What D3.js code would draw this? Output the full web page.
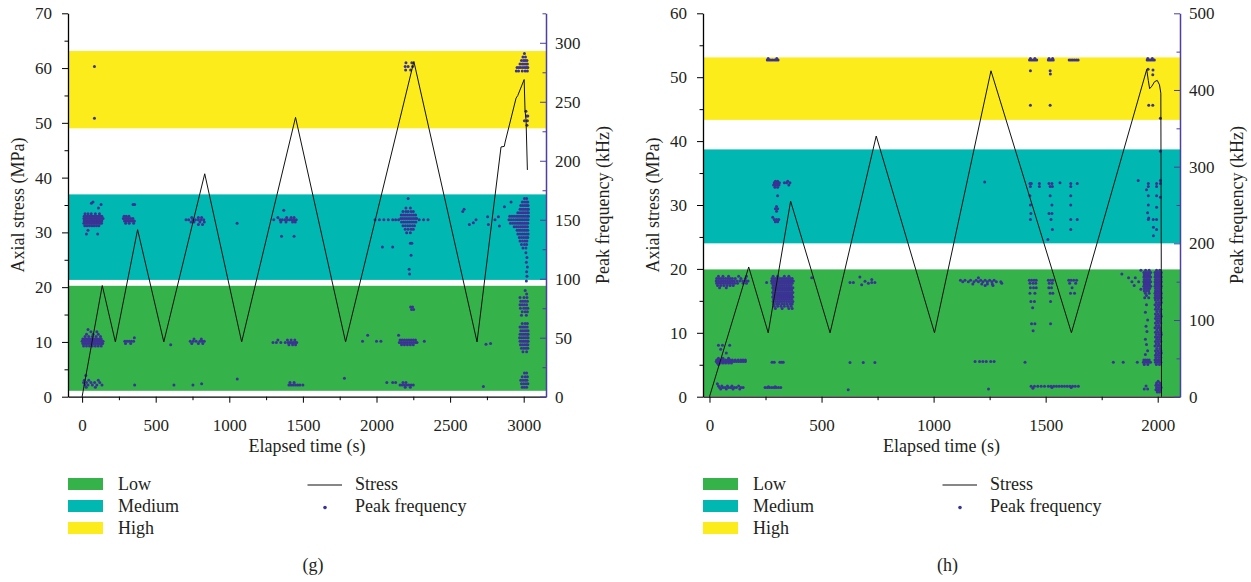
<!DOCTYPE html>
<html><head><meta charset="utf-8">
<script src="https://cdn.jsdelivr.net/npm/d3@7"></script>
<style>
body{margin:0;background:#fff}
svg{display:block}
text{font-family:"Liberation Serif","DejaVu Serif",serif;fill:#231f20}
</style>
</head><body><svg id="c" width="1251" height="582"></svg>
<script>
// ---------- data ----------
const bandNames = ["Low", "Medium", "High"];
const bandColors = ["#35b24a", "#00b8b1", "#fcec1c"];
const seriesNames = ["Stress", "Peak frequency"];

// frequency bands (kHz)
const gBands = [[5, 94], [99, 171.5], [227.5, 293]];
const hBands = [[0.5, 166], [200, 322.5], [361, 442.5]];

// tick values
const gTimeTicks = [0, 500, 1000, 1500, 2000, 2500, 3000];
const gTimeMinor = [250, 750, 1250, 1750, 2250, 2750];
const gStressTicks = [0, 10, 20, 30, 40, 50, 60, 70];
const gStressMinor = [5, 15, 25, 35, 45, 55, 65];
const gFreqTicks = [0, 50, 100, 150, 200, 250, 300];
const gFreqMinor = [25, 75, 125, 175, 225, 275, 325];
const hTimeTicks = [0, 500, 1000, 1500, 2000];
const hTimeMinor = [250, 750, 1250, 1750];
const hStressTicks = [0, 10, 20, 30, 40, 50, 60];
const hStressMinor = [5, 15, 25, 35, 45, 55];
const hFreqTicks = [0, 100, 200, 300, 400, 500];
const hFreqMinor = [50, 150, 250, 350, 450];

// stress curves [time s, MPa]
const gStress = [[0,0],[137,20.3],[226,10],[377,30.5],[555,10],[833,40.7],[1084,10],[1450,51],[1790,10],[2254,61.2],[2683,10],[2846,45.6],[2868,45.7],[2874,46.5],[2948,54.5],[2960,55],[3003,57.9],[3009,52.3],[3016,50.5],[3025,41.4]];
const hStress = [[0,0],[175,20.3],[262,10],[362,30.6],[538,10],[744,40.8],[1004,10],[1256,51],[1615,10],[1951,51.2],[1958,49.5],[1964,48.2],[1974,48.6],[1986,49.3],[1998,49.5],[2008,48.8],[2014,47.5],[2016,20],[2017,0]];

// peak frequency points, rows of [kHz, time1, time2, ...]
const gPeakRows = [
[165,74],[164,63],[163,129],[160,111],
[155,20,40,62,90,118],
[153,14,26,38,50,62,74,86,98,110,122,134],
[151,12,24,36,48,60,72,84,96,108,120,132,142],
[149,14,26,38,50,62,74,86,98,110,122,134],
[147,12,24,36,48,60,72,84,96,108,120,132],
[145,18,34,50,66,82,98,114],
[141,40],[138,29,106],
[163,346,357],[153,285,300,318],[151,280,292,304,316,330,345],[149,288,300,312,326,340,355],[147,296,320,350],
[152,745,790,812],[150,706,724,752,770,790,808,826],[148,740,760,800,830],[146,790,818],[147,1053],
[158,1370],[152,1330,1390,1420,1440],[150,1302,1345,1360,1378,1395,1410,1425,1440,1455],[148,1350,1385,1430,1448],[136,1355,1440],
[150,1990,2020,2050,2080,2110,2130,2150,2290,2320,2350],
[168,2215],[160,2200,2230],[157,2180,2200,2215,2235,2250],
[154,2168,2182,2196,2210,2224,2238,2252,2266],
[151,2165,2178,2192,2206,2220,2234,2248,2262,2273],
[148,2170,2184,2198,2212,2226,2240,2254,2268],
[145,2180,2196,2212,2228,2244,2258],
[142,2195,2215,2235,2250],[139,2205,2230],[130,2230,2240],[127,2040,2110],[120,2235],[108,2222],[104,2225],
[76,2232,2245],[74,2238,2252],
[157,2586],[146,2631,2760],[147.5,2658],[150,2676,2805],[152.6,2755,2828],[144.7,2835],[161,2869],[165,2914],[159,2595],
[168,3005,3020],[165,2990,3005,3018,3028],[162,2980,2994,3008,3020,3030],[159,2975,2988,3000,3012,3024,3032],
[156,2960,2974,2988,3000,3012,3024,3032],
[153,2905,2920,2935,2950,2962,2975,2988,3000,3012,3024,3032],
[150,2900,2915,2930,2945,2958,2970,2982,2994,3006,3018,3030],
[147,2910,2925,2940,2955,2968,2980,2992,3004,3016,3028],
[144,2935,2950,2964,2978,2990,3002,3014,3026],
[141,2955,2968,2980,2992,3004,3016,3028],
[138,2960,2975,2990,3004,3018,3030],
[135,2970,2985,3000,3015,3028],[132,2975,2992,3008,3022],[129,2985,3005,3020],[126,2995,3015],
[122,3015],[118,3022],[114,3018],[110,3025],[106,3020],[102,3022],[98,3018],
[90,3010],[87,3020],[84,2975,3002,3022],[81,2980,2995,3010,3025],[78,2975,2990,3005,3020],[75,2978,3000,3015,3028],[72,2990,3010,3025],[69,2985,3018],
[62,2990,3010,3025],[59,2975,2988,3000,3012,3024],[56,2980,2994,3008,3020,3030],[53,2975,2988,3000,3012,3024,3030],
[50,2972,2985,2998,3010,3022,3030],[47,2975,2988,3000,3012,3024,3030],[44,2978,2992,3006,3018,3028],[41,2985,3000,3015,3028],[38,2995,3020],
[57,40],[55,60,100],[53,30,75,110],[51,20,45,70,95,125],
[49,5,18,30,42,55,68,80,92,105,118,130],
[47,0,12,24,36,48,60,72,84,96,108,120,132,142],
[45,5,18,30,42,55,68,80,92,105,118,130,140],
[43,10,30,50,70,90,110,130],
[50,355],[47,290,305,320,335,350],[45,295,330],[44,602],
[49,760,810],[47,735,755,775,800,815,830],[45,745,790,820],
[48,1330,1395,1420,1445],[46,1297,1320,1350,1380,1400,1412,1424,1436,1448,1458],[44,1405,1430,1450],
[52,1940,2150],[47,1905,2000,2030,2325],
[48,2160,2175,2190,2205,2220,2235,2250,2265],[46,2155,2168,2182,2196,2210,2224,2238,2252,2266,2275],[44,2170,2190,2210,2230,2250],
[44.4,2744],[45.2,2775],
[18,25],[14,15,45,110],[12,10,30,60,85,120],[10,20,40,70,100,135],[8,28,90],
[10,357,624,753],[11,812],[15,1054],[15.6,1782],
[12,1412,1440],[10,1405,1420,1435,1450,1465,1480,1500],
[12,2070,2110,2130,2180,2200],[10,2160,2175,2190,2205,2220,2235,2250],[8,2195,2230],[8.6,2726],
[20,3005,3020],[17,2990,3010,3025],[14,2980,2995,3010,3022],[11,2985,3000,3015,3028],[8,2990,3005,3020],
[280,84],[236,84],[283,2200,2240],[280,2195,2215,2245],[277,2198,2232],
[291,3005],[288,2995,3012],[285,2985,3000,3010,3022],[282,2975,2990,3002,3015,3025],
[279,2955,2968,2980,2995,3008,3018,3028],[276,2950,2965,2990,3010,3025],
[242,3015],[238,3020,3028],[234,3005,3025],[230,3022]
];

const hPeakRows = [
[157,40,60,85,130,165],
[154,32,42,52,62,72,82,92,102,115,140,160],
[151,30,40,50,60,70,80,90,100,110,122,135,148,162,172],
[148,32,42,52,62,72,82,92,102,112,125,150,165],
[145,36,50,64,78,92,106],[142,45,75],
[157,284,304,334,354],
[154,279,288,297,306,315,324,333,342,351,360,369],
[151,277,286,295,304,313,322,331,340,349,358,367,374],
[148,279,288,297,306,315,324,333,342,351,360,369],
[145,284,294,304,314,324,334,344,354,364],
[142,282,291,300,309,318,327,336,345,354,363,372],
[139,286,295,304,313,322,331,340,349,358,367],
[136,282,291,300,309,318,327,336,345,354,363,372],
[133,286,295,304,313,322,331,340,349,358,367],
[130,282,291,300,309,318,327,336,345,354,363,372],
[127,286,295,304,313,322,331,340,349,358,367],
[124,284,294,304,314,324,334,344,354,364,372],
[121,286,299,309,322,334,346,359,369],
[118,289,304,319,334,349,364],[115,294,324,354,369],
[149,255],[155,456],
[149,627,642,724,738],[156,671],[146,679],[150.5,694],[148,709],[153,724],
[155,1200],[152,1120,1140,1165,1190,1210,1230,1250,1270],[150,1130,1155,1180,1200,1220,1240,1260,1280,1300],[147,1175,1215,1240,1262],[145,1230,1265],[148,1304],
[152,1427,1437,1448,1458],[148,1430,1444,1456],[142,1432,1446,1458],[135,1430,1452],[124,1434,1450],[116,1442],[95,1437,1452],[86,1444],
[152,1512,1522,1532],[148,1516,1529],[142,1514,1526],[135,1520,1532],[124,1522],[95,1522],
[152,1603,1613,1625,1638],[148,1607,1634],[142,1618],[135,1611,1629],
[160,1840],[155,1870,1900],[150,1885,1915],[145,1895],[140,1925],[165,1925],
[165,1946,1962,1995,2009],
[162,1938,1946,1954,1962,1969,1988,1995,2002,2009,2016],
[159,1940,1948,1956,1964,1990,1998,2006,2014],
[156,1938,1946,1954,1962,1969,1988,1995,2002,2009,2016],
[153,1940,1948,1956,1964,1990,1998,2006,2014],
[150,1938,1946,1954,1962,1969,1988,1995,2002,2009,2016],
[147,1940,1948,1956,1964,1990,1998,2006,2014],
[144,1938,1946,1954,1962,1969,1988,1995,2002,2009,2016],
[141,1940,1948,1956,1964,1990,1998,2006,2014],
[138,1940,1950,1960,1990,1998,2006,2014],
[135,1945,1962,1988,1995,2002,2009,2016],
[132,1950,1990,1998,2006,2014],
[129,1942,1960,1988,1995,2002,2009,2016],
[126,1990,2002,2014],[123,1994,2006,2016],[120,1988,2000,2012],[117,1994,2006],[114,1990,2002,2014],[111,1996,2010],
[108,1990,2002,2014],[105,1994,2006,2016],[102,1990,2000,2012],[99,1996,2008],[96,1990,2002,2014],[93,1994,2006],
[90,1988,2000,2012],[87,1996,2010],[84,1990,2002,2014],[81,1994,2006,2016],[78,1990,2000,2012],[75,1996,2008],
[72,1990,2002,2014],[69,1994,2006],[66,1988,2000,2012],[63,1996,2010],[60,1990,2002,2014],[57,1994,2006,2016],
[54,1990,2000,2012],[51,1992,2004,2014],[48,1988,1996,2004,2012],[45,1990,1998,2006,2014],[42,1994,2008],
[120,1950],[110,1945],[100,1955],[92,1948],[85,1952],[75,1945],[68,1950],[60,1955],[55,1945],
[48,1938,1946,1954,1962],[45,1936,1944,1952,1960,1968],[42,1940,1956],
[20,2002],[18,1995,2009],[15,1992,2002,2012],[12,1995,2005,2015],[9,1992,2002,2012],[6,1998,2008],[14,1948],[10,1940,1955],
[67,40,58,90],[62,50],[57,75],
[50,40,60,85],
[48,32,42,52,62,72,82,92,102,115,128,140,150,160],
[46,30,40,50,60,70,80,90,100,110,120,130,140,150,160],
[44,35,48,60,72,85,98],[42,40],
[45,279,289,314,322,329],[44.5,627,686,738],
[46,1185,1205,1220,1235,1255,1270],[45,1408,1802,1846,1909],
[17,35],[14,40,55,80,100,130],[12,45,60,70,85,95,110,120,140,150],[10,50,75,105,135],
[12,248,258,268,278,288,298,308,318],[13,263,293],[9,619],[10,1245],[11,1443],
[13.5,1435,1450,1465,1480,1495,1512,1524,1536,1548,1560,1572,1584,1596,1608,1620,1632,1646],[12,1528,1614],
[281,294,304,349],[279,289,296,304,312,334,344,359],[276,286,294,302,310,354],[273,292,304],[262,304],
[248,299],[245,294,304],[242,299],[234,282],[231,289,299,309],[228,294,304],
[278,1430,1436,1472,1515,1528,1612,1641,1958,1995],[274,1432,1472,1520,1530,1612,1958,1995],
[262,1430,1520,1612,1958,1995],[250,1432,1528,1612,1958],[247,1995],[239,1434,1515,1528],
[231,1432,1524,1612,1641,1958,1980,1995],[218,1530,1612,1995],[205,1510],[279,1564],[282,1913],[280,1228],
[270,1950],[240,1955],[233,1960],[221,1981],[210,1981],
[363,2012],[320,2012],[282,2012],[278,2012],[260,2012],
[439,258,266,274,282,290,298,306],[441,262,300],
[441,1432,1452,1515,1531,1956,1976],
[439,1428,1436,1444,1452,1460,1512,1519,1526,1534,1605,1613,1621,1629,1637,1645,1953,1961,1969,1977,1985],
[425,1432,1520],[421,1521],[380,1432,1520,1960,1978],[427,1957],[426,1979],[420,1978]
];

// ---------- drawing ----------
const svg = d3.select("#c");
const dotColor = "#3b3394";
const rightAxisColor = "#4b3f9f";
const serif = '"Liberation Serif","DejaVu Serif",serif';

const charts = [
  {left:68, right:546, top:13.3, bottom:396.7, xDom:[-95.8,3151.5], sMax:70, fMax:325,
   xT:gTimeTicks, xM:gTimeMinor, sT:gStressTicks, sM:gStressMinor, fT:gFreqTicks, fM:gFreqMinor,
   bands:gBands, stress:gStress, peaks:gPeakRows, caption:"(g)"},
  {left:703, right:1180, top:13.3, bottom:396.7, xDom:[-29,2099.5], sMax:60, fMax:500,
   xT:hTimeTicks, xM:hTimeMinor, sT:hStressTicks, sM:hStressMinor, fT:hFreqTicks, fM:hFreqMinor,
   bands:hBands, stress:hStress, peaks:hPeakRows, caption:"(h)"}
];

charts.forEach(c => {
  const x = d3.scaleLinear().domain(c.xDom).range([c.left, c.right]);
  const yS = d3.scaleLinear().domain([0, c.sMax]).range([c.bottom, c.top]);
  const yF = d3.scaleLinear().domain([0, c.fMax]).range([c.bottom, c.top]);
  const g = svg.append("g");

  // bands
  g.selectAll("rect.band").data(c.bands).enter().append("rect")
    .attr("x", c.left).attr("width", c.right - c.left)
    .attr("y", d => yF(d[1])).attr("height", d => yF(d[0]) - yF(d[1]))
    .attr("fill", (d, i) => bandColors[i]);

  // points
  const pts = [];
  c.peaks.forEach(r => { for (let k = 1; k < r.length; k++) pts.push([r[k], r[0]]); });
  g.selectAll("circle.pt").data(pts).enter().append("circle")
    .attr("cx", d => x(d[0])).attr("cy", d => yF(d[1])).attr("r", 1.5)
    .attr("fill", dotColor);

  // stress line
  g.append("path").datum(c.stress)
    .attr("d", d3.line().x(d => x(d[0])).y(d => yS(d[1])))
    .attr("fill", "none").attr("stroke", "#111").attr("stroke-width", 1);

  // axes
  const tickFont = a => a.attr("font-family", serif).selectAll("text")
    .style("font-size", "17px").style("font-family", serif).attr("fill", "#231f20");
  const xa = g.append("g").attr("transform", `translate(0,${c.bottom})`)
    .call(d3.axisBottom(x).tickValues(c.xT).tickSize(6).tickSizeOuter(0).tickPadding(16).tickFormat(d3.format("d")));
  xa.call(tickFont);
  g.append("g").attr("transform", `translate(0,${c.bottom})`)
    .call(d3.axisBottom(x).tickValues(c.xM).tickSize(3.5).tickSizeOuter(0).tickFormat(""))
    .call(a => a.select(".domain").remove());
  const ya = g.append("g").attr("transform", `translate(${c.left},0)`)
    .call(d3.axisLeft(yS).tickValues(c.sT).tickSize(6).tickSizeOuter(0).tickPadding(10));
  ya.call(tickFont);
  g.append("g").attr("transform", `translate(${c.left},0)`)
    .call(d3.axisLeft(yS).tickValues(c.sM).tickSize(3.5).tickSizeOuter(0).tickFormat(""))
    .call(a => a.select(".domain").remove());
  const ra = g.append("g").attr("transform", `translate(${c.right},0)`)
    .call(d3.axisRight(yF).tickValues(c.fT).tickSize(-6).tickSizeOuter(0).tickPadding(9));
  ra.call(tickFont);
  ra.select(".domain").attr("stroke", rightAxisColor).attr("stroke-width", 1.5);
  ra.selectAll(".tick line").attr("stroke", rightAxisColor);
  const rm = g.append("g").attr("transform", `translate(${c.right},0)`)
    .call(d3.axisRight(yF).tickValues(c.fM).tickSize(-3.5).tickSizeOuter(0).tickFormat(""));
  rm.select(".domain").remove();
  rm.selectAll(".tick line").attr("stroke", rightAxisColor);
  [xa, ya].forEach(a => a.select(".domain").attr("stroke-width", 1.3));

  const cx = (c.left + c.right) / 2;
  const cy = (c.top + c.bottom) / 2;
  g.append("text").attr("x", cx).attr("y", 452).attr("text-anchor", "middle")
    .style("font-size", "18px").text("Elapsed time (s)");
  g.append("text").attr("transform", `translate(${c.left - 44},${cy}) rotate(-90)`)
    .attr("text-anchor", "middle").style("font-size", "18px").text("Axial stress (MPa)");
  g.append("text").attr("transform", `translate(${c.right + 63},${cy}) rotate(-90)`)
    .attr("text-anchor", "middle").style("font-size", "18px").text("Peak frequency (kHz)");

  // legend
  const lg = g.append("g").attr("transform", `translate(${c.left},0)`);
  bandNames.forEach((n, i) => {
    const yb = 490 + i * 22;
    lg.append("rect").attr("x", 0).attr("y", yb - 12).attr("width", 35).attr("height", 12).attr("fill", bandColors[i]);
    lg.append("text").attr("x", 50).attr("y", yb).style("font-size", "18px").text(n);
  });
  lg.append("line").attr("x1", 239.5).attr("x2", 274).attr("y1", 485).attr("y2", 485)
    .attr("stroke", "#111").attr("stroke-width", 1.2);
  lg.append("text").attr("x", 287).attr("y", 490).style("font-size", "18px").text(seriesNames[0]);
  lg.append("circle").attr("cx", 257).attr("cy", 507.5).attr("r", 1.8).attr("fill", dotColor);
  lg.append("text").attr("x", 287).attr("y", 512).style("font-size", "18px").text(seriesNames[1]);

  g.append("text").attr("x", cx + 6).attr("y", 571).attr("text-anchor", "middle")
    .style("font-size", "18px").text(c.caption);
});
</script>
</body></html>
